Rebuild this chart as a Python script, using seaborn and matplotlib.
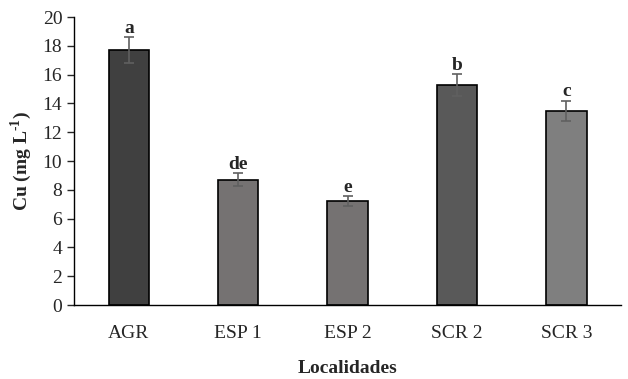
import matplotlib.pyplot as plt
import numpy as np
import pandas as pd
import seaborn as sns

localidades = ['AGR', 'ESP 1', 'ESP 2', 'SCR 2', 'SCR 3']
cu = [17.7, 8.7, 7.2, 15.3, 13.5]
err = [0.9, 0.45, 0.35, 0.75, 0.7]
letras = ['a', 'de', 'e', 'b', 'c']
colors = ['#404040', '#767171', '#767171', '#595959', '#7f7f7f']

df = pd.DataFrame({'loc': localidades, 'cu': cu})

sns.set_style('white')
plt.rcParams['font.family'] = ['Liberation Serif', 'DejaVu Serif']
plt.rcParams['mathtext.fontset'] = 'custom'
plt.rcParams['mathtext.rm'] = 'Liberation Serif'
plt.rcParams['mathtext.bf'] = 'Liberation Serif:bold'

fig = plt.figure(figsize=(6.28, 3.79), dpi=100)
ax = fig.add_axes([0.118, 0.195, 0.871, 0.76])

sns.barplot(df, x='loc', y='cu', hue='loc', palette=colors, legend=False,
            width=0.37, edgecolor='black', linewidth=1.2, ax=ax)
ax.errorbar(np.arange(len(cu)), cu, yerr=err, fmt='none', ecolor='#606060',
            elinewidth=1.2, capsize=3.5, capthick=1.2)

for i, (v, e, t) in enumerate(zip(cu, err, letras)):
    ax.text(i, v + e + 0.02, t, ha='center', va='bottom', fontsize=14, fontweight='bold')

ax.set_ylim(0, 20)
ax.set_xlim(-0.5, 4.5)
ax.set_yticks(range(0, 21, 2))
ax.tick_params(axis='y', labelsize=14, length=5, width=1, direction='out', left=True)
ax.tick_params(axis='x', labelsize=14, length=0, pad=14)
ax.set_xlabel('Localidades', fontsize=14, fontweight='bold', labelpad=13)
ax.set_ylabel('Cu (mg L$^{\\mathbf{\\text{-}1}}$)', fontsize=14, fontweight='bold', labelpad=6)

sns.despine(ax=ax)
for s in ['left', 'bottom']:
    ax.spines[s].set_color('black')
    ax.spines[s].set_linewidth(1)

plt.savefig('out.png', dpi=100)
